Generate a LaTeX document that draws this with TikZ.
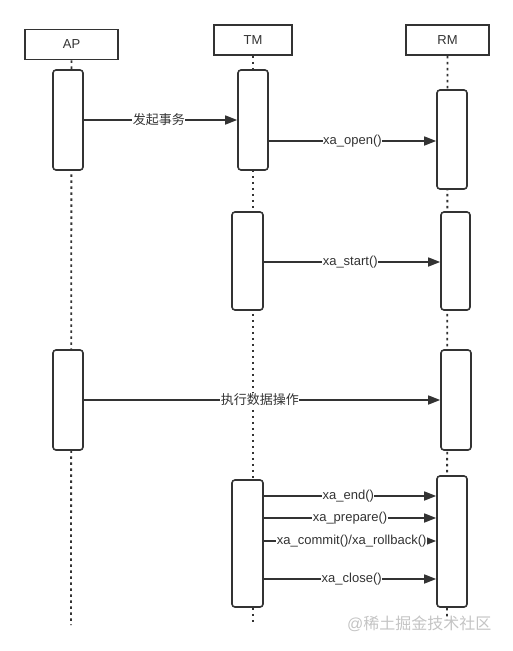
\documentclass[tikz,border=0pt]{standalone}
\usepackage{fontspec}
\setmainfont{Liberation Sans}
\newfontfamily\cjk{Noto Sans CJK SC}
\usetikzlibrary{arrows.meta}
\definecolor{ink}{HTML}{333333}
\definecolor{wm}{HTML}{C4C4C4}
\tikzset{
  head/.style={draw=ink,line width=1.6pt,fill=white,minimum width=#1,minimum height=30pt,inner sep=0pt,font=\fontsize{13}{15}\selectfont,text=ink},
  act/.style={draw=ink,line width=1.6pt,fill=white,rounded corners=3pt},
  life/.style={draw=ink,line width=1.8pt,dash pattern=on 2.5pt off 3.5pt},
  msg/.style={draw=ink,line width=1.5pt,-{Triangle[length=12pt,width=9pt]}},
  lab/.style={fill=white,inner sep=0.5pt,font=\fontsize{13}{15}\selectfont,text=ink},
}
\begin{document}
\begin{tikzpicture}[x=1pt,y=-1pt]
\useasboundingbox (0,0) rectangle (513,651);
% headers
\node[head=93pt] (ap) at (71.5,44.5) {AP};
\node[head=78pt] (tm) at (253,40) {TM};
\node[head=83pt] (rm) at (447.5,40) {RM};
% lifeline ends
\coordinate (apE) at (71,625);
\coordinate (tmE) at (253,625);
\coordinate (rmE) at (447,620);
\draw[life] (ap.south) -- (apE);
\draw[life] (tm.south) -- (tmE);
\draw[life] (rm.south) -- (rmE);
% activations group 1
\node[act,minimum width=30pt,minimum height=100pt] (ap1) at (68,120) {};
\node[act,minimum width=30pt,minimum height=100pt] (tm1) at (253,120) {};
\node[act,minimum width=30pt,minimum height=99pt] (rm1) at (452,139.5) {};
% group 2
\node[act,minimum width=31pt,minimum height=98pt] (tm2) at (247.5,261) {};
\node[act,minimum width=29pt,minimum height=98pt] (rm2) at (455.5,261) {};
% group 3
\node[act,minimum width=30pt,minimum height=100pt] (ap3) at (68,400) {};
\node[act,minimum width=30pt,minimum height=100pt] (rm3) at (456,400) {};
% group 4
\node[act,minimum width=31pt,minimum height=127pt] (tm4) at (247.5,543.5) {};
\node[act,minimum width=30pt,minimum height=131pt] (rm4) at (452,541.5) {};
% messages
\draw[msg] (ap1.east |- 0,120) -- node[lab,pos=0.49] {\cjk 发起事务} (tm1.west |- 0,120);
\draw[msg] (tm1.east |- 0,141) -- node[lab,pos=0.5] {xa\_open()} (rm1.west |- 0,141);
\draw[msg] (tm2.east |- 0,262) -- node[lab,pos=0.49] {xa\_start()} (rm2.west |- 0,262);
\draw[msg] (ap3.east |- 0,400) -- node[lab,pos=0.494] {\cjk 执行数据操作} (rm3.west |- 0,400);
\draw[msg] (tm4.east |- 0,496) -- node[lab,pos=0.49] {xa\_end()} (rm4.west |- 0,496);
\draw[msg] (tm4.east |- 0,518) -- node[lab,pos=0.5] {xa\_prepare()} (rm4.west |- 0,518);
\draw[msg] (tm4.east |- 0,541) -- node[lab,pos=0.51] {xa\_commit()/xa\_rollback()} (rm4.west |- 0,541);
\draw[msg] (tm4.east |- 0,579) -- node[lab,pos=0.51] {xa\_close()} (rm4.west |- 0,579);
% watermark
\node[font=\fontsize{16}{18}\selectfont,text=wm,anchor=east] (wmk) at (495,624) {@{\cjk 稀土掘金技术社区}};
\end{tikzpicture}
\end{document}
